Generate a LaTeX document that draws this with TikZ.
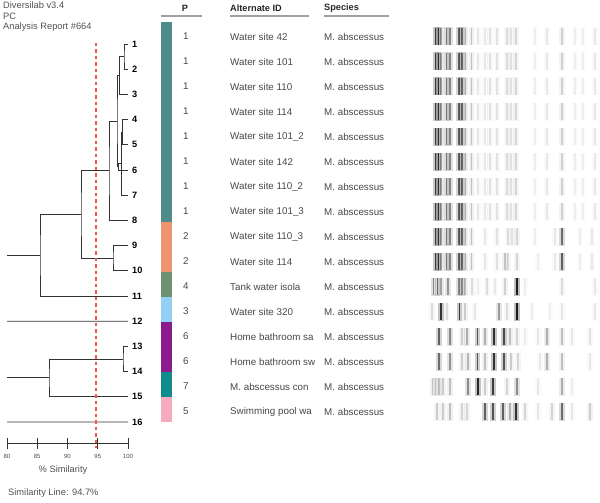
\documentclass[tikz,border=0pt]{standalone}
\usepackage{fontspec}
\setmainfont{Liberation Sans}

\definecolor{treeline}{HTML}{333333}
\definecolor{simred}{HTML}{F4564E}
\definecolor{rulegray}{HTML}{A0A0A0}
\definecolor{grpA}{HTML}{4E8C8A}
\definecolor{grpB}{HTML}{EE9472}
\definecolor{grpC}{HTML}{6B9170}
\definecolor{grpD}{HTML}{92D0F6}
\definecolor{grpE}{HTML}{8C1C8C}
\definecolor{grpF}{HTML}{118C8C}
\definecolor{grpG}{HTML}{F6AABD}

\tikzset{
  branch/.style={draw=treeline, line width=0.9pt},
  simline/.style={draw=simred, line width=1.5pt, dash pattern=on 3.5pt off 3pt},
  headrule/.style={draw=rulegray, line width=1.6pt},
  leaflab/.style={anchor=west, inner sep=0pt, font=\fontsize{9.2}{11}\selectfont\bfseries},
  cell/.style={anchor=west, inner sep=0pt, text=black!72, font=\fontsize{9.8}{11}\selectfont},
  head/.style={anchor=west, inner sep=0pt, text=black!85, font=\fontsize{9.2}{11}\selectfont\bfseries},
  info/.style={anchor=west, inner sep=0pt, text=black!68, font=\fontsize{9.3}{11}\selectfont},
  ticklab/.style={inner sep=0pt, text=black!70, font=\fontsize{6}{7}\selectfont},
}

% one gel lane: #1 = centre y, #2 = list of band x / darkness
\newcommand{\lane}[2]{%
  \foreach \bx/\bo in {#2} {%
    \pgfmathsetmacro\bh{0.3*\bo}
    \fill[black, opacity=\bh] (\bx-2.6,#1-9) rectangle (\bx+2.6,#1+9);
    \fill[black, opacity=\bo] (\bx-0.8,#1-8.5) rectangle (\bx+0.8,#1+8.5);
  }}

\begin{document}
\begin{tikzpicture}[x=1pt, y=-1pt, line cap=butt]

  % ════ header text ════
  \node[info] (prog) at (3,5) {Diversilab v3.4};
  \node[info] (mode) at (3,16) {PC};
  \node[info] (rep)  at (3,27) {Analysis Report \#664};

  % ════ leaves ════
  \foreach \i in {1,...,16} {
    \pgfmathsetmacro\ly{44+25.2*(\i-1)}
    \coordinate (l\i) at (128,\ly);
    \node[leaflab] (lab\i) at (132,\ly) {\i};
  }

  % ════ cluster joins ════
  \coordinate (n12)   at (124,56.6);
  \coordinate (n123)  at (119.6,75.5);
  \coordinate (n45)   at (122.6,132.2);
  \coordinate (n457)  at (121.5,163.7);
  \coordinate (n4567) at (118.6,166.85);
  \coordinate (nA)    at (117,121.2);
  \coordinate (nB)    at (109,170.8);
  \coordinate (n910)  at (113,258.2);
  \coordinate (nC)    at (81,214.5);
  \coordinate (nD)    at (40,255.25);
  \coordinate (n1314) at (123,359);
  \coordinate (nF)    at (49,377.9);
  \coordinate (r1)  at (7,255.25);
  \coordinate (r12) at (7,321.2);
  \coordinate (r2)  at (7,377.9);
  \coordinate (r16) at (7,422);

  \draw[branch] (l1) -| (n12) |- (l2);
  \draw[branch] (n12) -| (n123) |- (l3);
  \draw[branch] (l4) -| (n45) |- (l5);
  \draw[branch] (n45) -| (n457) |- (l7);
  \draw[branch] (n457) -| (n4567) |- (l6);
  \draw[branch] (n123) -| (nA) |- (n4567);
  \draw[branch] (nA) -| (nB) |- (l8);
  \draw[branch] (l9) -| (n910) |- (l10);
  \draw[branch] (nB) -| (nC) |- (n910);
  \draw[branch] (nC) -| (nD) |- (l11);
  \draw[branch] (r1) -- (nD);
  \draw[branch] (r12) -- (l12);
  \draw[branch] (l13) -| (n1314) |- (l14);
  \draw[branch] (n1314) -| (nF) |- (l15);
  \draw[branch] (r2) -- (nF);
  \draw[branch] (r16) -- (l16);

  % ════ similarity axis ════
  \coordinate (ax0) at (7,443);
  \coordinate (ax1) at (128,443);
  \draw[branch] (ax0) -- (ax1);
  \foreach \v [count=\k] in {80,85,90,95,100} {
    \pgfmathsetmacro\tx{7+(\v-80)*6.05}
    \draw[branch] (\tx,438) -- (\tx,449);
    \node[ticklab] (tick\k) at (\tx,456) {\v};
  }
  \node[info, anchor=center] (axlab) at (63,470) {\% Similarity};
  \node[info] (simtxt) at (8,493) {Similarity Line: 94.7\%};

  % ════ cut-off line at 94.7 ════
  \coordinate (sl0) at (96,43);
  \coordinate (sl1) at (96,448);
  \draw[simline] (sl0) -- (sl1);

  % ════ table head ════
  \node[head, anchor=center] (hP) at (185,8) {P};
  \node[head] (hID) at (230,8) {Alternate ID};
  \node[head] (hSp) at (324,8) {Species};
  \draw[headrule] (161,16) -- (202,16);
  \draw[headrule] (230,16) -- (309,16);
  \draw[headrule] (324,16) -- (389,16);

  % ════ pattern colour bar ════
  \foreach \c/\a/\b in {grpA/22/222, grpB/222/272, grpC/272/297, grpD/297/322,
                        grpE/322/372, grpF/372/397, grpG/397/422}
    \fill[\c] (161,\a) rectangle (172,\b);

  % ════ table rows ════
  \foreach \p/\id [count=\i] in {1/Water site 42, 1/Water site 101, 1/Water site 110,
      1/Water site 114, 1/Water site 101\_2, 1/Water site 142, 1/Water site 110\_2,
      1/Water site 101\_3, 2/Water site 110\_3, 2/Water site 114, 4/Tank water isola,
      3/Water site 320, 6/Home bathroom sa, 6/Home bathroom sw, 7/M. abscessus con,
      5/Swimming pool wa} {
    \pgfmathsetmacro\ty{36.5+25*(\i-1)}
    \node[cell] (p\i) at (183,\ty) {\p};
    \node[cell] (id\i) at (230,\ty) {\id};
    \node[cell] (sp\i) at (324,\ty) {M. abscessus};
  }

  % ════ gel lanes ════
  \foreach \ly in {36.5,61.5,86.5,111.5,136.5,161.5,186.5,211.5}
    \lane{\ly}{435.5/0.7, 438.5/0.75, 441/0.3, 446.5/0.45, 450/0.4, 459/0.55, 462/0.5,
      465.5/0.25, 471.5/0.2, 478/0.07, 485/0.07, 490/0.09, 497/0.09, 507/0.11, 511/0.09,
      516/0.13, 535/0.05, 547/0.07, 562/0.15, 575/0.05, 583/0.05, 595/0.07};
  \lane{236.5}{435.5/0.7, 438.5/0.75, 441/0.3, 446.5/0.45, 450/0.4, 459/0.55, 462/0.5,
      465.5/0.25, 471.5/0.2, 485/0.07, 497/0.09, 508/0.11, 512/0.09, 517/0.13,
      535/0.05, 555/0.07, 562/0.5, 580/0.05, 592/0.07};
  \lane{261.5}{435.5/0.7, 438.5/0.75, 441/0.3, 446.5/0.45, 450/0.4, 459/0.55, 462/0.5,
      465.5/0.25, 471.5/0.2, 485/0.07, 497/0.09, 505/0.18, 508/0.11, 517/0.13,
      538/0.05, 555/0.07, 562/0.55, 580/0.05, 592/0.07};
  \lane{286.5}{433.5/0.4, 437.5/0.5, 441/0.3, 448/0.35, 459/0.4, 462/0.35, 465/0.2,
      472/0.11, 478/0.05, 487/0.11, 495/0.07, 505/0.15, 517/0.85, 525/0.05,
      562/0.11, 595/0.07};
  \lane{311.5}{432/0.11, 441/0.75, 447/0.11, 459.5/0.7, 465/0.16, 475/0.07, 499/0.33,
      507/0.11, 517/0.85, 532/0.05, 550/0.05, 562/0.07, 595/0.07};
  \lane{336.5}{439/0.55, 450/0.4, 462/0.16, 467/0.26, 477.5/0.6, 485/0.26, 494/0.75,
      504/0.65, 510/0.2, 517/0.13, 525/0.05, 538/0.07, 547/0.26, 562/0.2, 572/0.07,
      590/0.09};
  \lane{361.5}{439/0.5, 450/0.35, 462/0.16, 468/0.23, 477.5/0.6, 485/0.2, 494/0.75,
      504/0.6, 511/0.16, 518/0.13, 540/0.07, 547/0.26, 562/0.2, 590/0.07};
  \lane{386.5}{432.5/0.18, 435.5/0.2, 439/0.2, 443/0.16, 450/0.2, 468/0.38, 478/0.8,
      485/0.16, 493/0.7, 507/0.13, 517/0.38, 538/0.07, 562/0.26, 572/0.05};
  \lane{411.5}{437/0.16, 443/0.16, 450/0.2, 462/0.13, 467/0.13, 485/0.55, 493/0.6,
      503/0.55, 510/0.26, 516/0.75, 525/0.13, 538/0.07, 552/0.13, 562/0.5, 572/0.07,
      590/0.16};

  \path[use as bounding box] (0,0) rectangle (600,503);
\end{tikzpicture}
\end{document}
